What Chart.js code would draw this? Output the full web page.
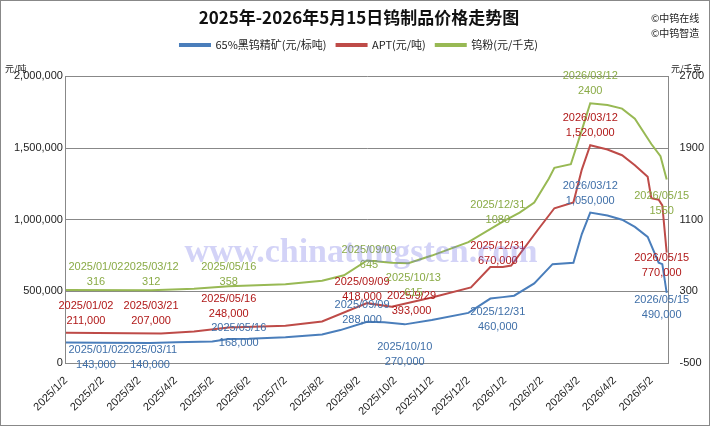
<!DOCTYPE html><html><head><meta charset="utf-8">
<script src="https://cdn.jsdelivr.net/npm/chart.js@4"></script>
<style>body{margin:0;background:#fff}#w{position:relative;width:708px;height:424px;border:1px solid #888}
canvas{display:block}</style></head><body><div id="w"><canvas id="c" width="708" height="424"></canvas></div>
<script>
const monthLabels=['2025/1/2','2025/2/2','2025/3/2','2025/4/2','2025/5/2','2025/6/2','2025/7/2','2025/8/2','2025/9/2','2025/10/2','2025/11/2','2025/12/2','2026/1/2','2026/2/2','2026/3/2','2026/4/2','2026/5/2'];
// x = months since 2025/1/2
const concX=[0,1,2.3,3,4,4.45,5,6,7,7.5,8.23,8.7,9.26,10,11,11.6,11.94,12.25,12.8,13.3,13.87,14.1,14.33,14.8,15.2,15.55,15.9,16.2,16.3,16.42];
const concY=[143000,142000,140000,145000,150000,168000,170000,180000,200000,230000,288000,285000,270000,300000,350000,450000,460000,470000,556000,690000,700000,900000,1050000,1030000,1000000,950000,880000,700000,690000,490000];
const aptX=[0,2.6,3.5,4.45,6,7,8.23,8.9,10,11.07,11.6,11.94,12.17,12.9,13.35,13.87,14.1,14.33,14.8,15.2,15.55,15.9,16.0,16.2,16.3,16.42];
const aptY=[211000,207000,220000,248000,260000,290000,418000,393000,458000,528000,670000,670000,680000,930000,1080000,1120000,1350000,1520000,1490000,1450000,1380000,1300000,1150000,1140000,1100000,770000];
const powX=[0,2.33,3.5,4.45,6,7,7.6,8.23,8.9,9.36,10,11,11.94,12.4,12.8,13.2,13.35,13.8,14.1,14.33,14.8,15.2,15.55,16.0,16.25,16.42];
const powY=[316,312,330,358,380,420,480,645,620,615,700,850,1080,1180,1292,1560,1680,1720,2100,2400,2380,2340,2227,1945,1810,1550];
const notes=[
[0,0,143000,'2025/01/02','143,000',30,14],[0,2.3,140000,'2025/03/11','140,000',0,14],[0,4.45,168000,'2025/05/16','168,000',10,-4],
[0,8.23,288000,'2025/09/09','288,000',-5,-10],[0,9.26,270000,'2025/10/10','270,000',0,30],[0,11.94,460000,'2025/12/31','460,000',-5,22],
[0,14.33,1050000,'2026/03/12','1,050,000',0,-20],[0,16.42,490000,'2026/05/15','490,000',-5,14],
[1,0,211000,'2025/01/02','211,000',20,-20],[1,2.6,207000,'2025/03/21','207,000',-10,-20],[1,4.45,248000,'2025/05/16','248,000',0,-22],
[1,8.23,418000,'2025/09/09','418,000',-5,-14],[1,8.9,393000,'2025/9/29','393,000',20,-4],[1,11.94,670000,'2025/12/31','670,000',-5,-14],
[1,14.33,1520000,'2026/03/12','1,520,000',0,-20],[1,16.42,770000,'2026/05/15','770,000',-5,12],
[2,0,316,'2025/01/02','316',30,-16],[2,2.33,312,'2025/03/12','312',0,-16],[2,4.45,358,'2025/05/16','358',0,-12],
[2,8.23,645,'2025/09/09','645',2,-4],[2,9.36,615,'2025/10/13','615',5,22],[2,11.94,1080,'2025/12/31','1080',-5,-10],
[2,14.33,2400,'2026/03/12','2400',0,-20],[2,16.42,1550,'2026/05/15','1550',-5,24]];
const cols=['#4a7ebb','#be4b48','#98b954'];
const mk=(xs,ys)=>xs.map((x,i)=>({x,y:ys[i]}));
const annot={id:'annot',afterDatasetsDraw(ch){const g=ch.ctx;g.save();g.font='11px "Liberation Sans",Arial';g.textAlign='center';
 notes.forEach(n=>{const ys=n[0]==2?ch.scales.y1:ch.scales.y;const px=ch.scales.x.getPixelForValue(n[1])+n[5];const py=ys.getPixelForValue(n[2])+n[6];
 g.fillStyle=['#3f6fa8','#b01818','#8aab46'][n[0]];g.fillText(n[3],px,py-7);g.fillText(n[4],px,py+8);});
 g.font='bold 34px "Liberation Serif"';g.fillStyle='rgba(110,110,230,0.3)';g.fillText('www.chinatungsten.com',360,252);
 g.font='9px "Noto Sans CJK SC"';g.fillStyle='#222';g.textAlign='left';g.fillText('元/吨',4,68);g.fillText('元/千克',670,68);
 g.font='10px "Noto Sans CJK SC"';g.fillText('©中钨在线',650,17);g.fillText('©中钨智造',650,32);g.restore();}};
new Chart(document.getElementById('c'),{type:'line',data:{datasets:[
{label:'65%黑钨精矿(元/标吨)',data:mk(concX,concY),borderColor:cols[0],yAxisID:'y'},
{label:'APT(元/吨)',data:mk(aptX,aptY),borderColor:cols[1],yAxisID:'y'},
{label:'钨粉(元/千克)',data:mk(powX,powY),borderColor:cols[2],yAxisID:'y1'}]},
options:{responsive:false,animation:false,layout:{padding:{left:10,right:2,top:0,bottom:4}},
elements:{point:{radius:0},line:{borderWidth:2,tension:0}},
plugins:{title:{display:true,text:'2025年-2026年5月15日钨制品价格走势图',font:{size:17,weight:'bold',family:'"Noto Sans CJK SC"'},color:'#111',padding:{top:6,bottom:2}},
legend:{labels:{boxWidth:30,boxHeight:2,padding:10,font:{size:11,family:'"Noto Sans CJK SC"'},color:'#222'}},tooltip:{enabled:false}},
scales:{x:{type:'linear',min:0,max:16.47,afterBuildTicks:a=>{a.ticks=monthLabels.map((l,i)=>({value:i}));},
 ticks:{callback:(v)=>monthLabels[v],maxRotation:45,minRotation:45,font:{size:11,family:'"Liberation Sans"'},color:'#222'},
 grid:{display:false},border:{color:'#888'}},
y:{min:0,max:2000000,ticks:{stepSize:500000,callback:v=>v.toLocaleString('en-US'),font:{size:11,family:'"Liberation Sans"'},color:'#222'},grid:{color:'#888',drawTicks:false},border:{color:'#888'}},
y1:{position:'right',min:-500,max:2700,ticks:{stepSize:800,callback:v=>String(v),font:{size:11,family:'"Liberation Sans"'},color:'#222'},grid:{display:false},border:{color:'#888'}}}},
plugins:[annot,{id:'legpad',beforeInit(ch){const f=ch.legend.fit;ch.legend.fit=function(){f.call(this);this.height+=16;};}}]});
</script></body></html>
